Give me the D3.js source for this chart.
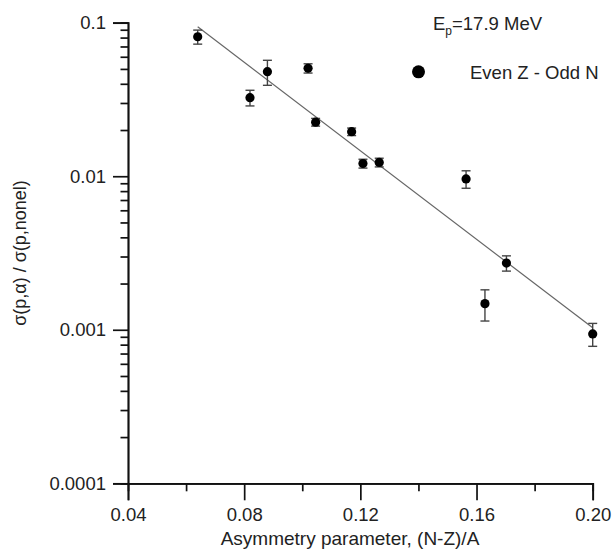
<!DOCTYPE html>
<html>
<head>
<meta charset="utf-8">
<script src="https://cdn.jsdelivr.net/npm/d3@7"></script>
<style>
  body { margin: 0; background: #fff; }
  text { font-family: "Liberation Sans", Arial, sans-serif; fill: #222; }
</style>
</head>
<body>
<div id="chart"></div>
<script>
// data
const asym = [0.064, 0.082, 0.088, 0.102, 0.1046, 0.117, 0.1209, 0.1265, 0.1564, 0.1629, 0.1703, 0.200];
const ratio = [0.081, 0.0325, 0.048, 0.0505, 0.0225, 0.0195, 0.0121, 0.0123, 0.0096, 0.00148, 0.00272, 0.00094];
const ratioErr = [0.0085, 0.0038, 0.0089, 0.0035, 0.0013, 0.0011, 0.0008, 0.0008, 0.00125, 0.00034, 0.00031, 0.00016];
const fitX = [0.064, 0.200];
const fitY = [0.094, 0.00103];
const xMajor = [0.04, 0.08, 0.12, 0.16, 0.20];
const xMinor = [0.06, 0.10, 0.14, 0.18];
const yMajor = [0.0001, 0.001, 0.01, 0.1];
const yMajorLabels = ["0.0001", "0.001", "0.01", "0.1"];

const W = 613, H = 550;
const MARGIN = {LEFT: 128, RIGHT: 20, TOP: 22.7, BOTTOM: 66.7};

const svg = d3.select("#chart").append("svg")
    .attr("width", W)
    .attr("height", H);

const x = d3.scaleLinear().domain([0.04, 0.20]).range([MARGIN.LEFT, 592.7]);
const y = d3.scaleLog().domain([0.0001, 0.1]).range([H - MARGIN.BOTTOM, MARGIN.TOP]);

// minor ticks on the log axis: 2..9 of each decade
const yMinor = [];
for (let d = 0; d < 3; d++) {
  for (let k = 2; k <= 9; k++) yMinor.push(+(k * yMajor[d]).toPrecision(2));
}

function styleAxis(g) {
  g.select(".domain").attr("stroke", "#111").attr("stroke-width", 1.7);
  g.selectAll(".tick line").attr("stroke", "#111").attr("stroke-width", 1.7);
  g.selectAll(".tick text").attr("font-size", 18.5).attr("fill", "#222")
    .attr("font-family", "Liberation Sans, Arial, sans-serif");
}

// x axis
svg.append("g")
    .attr("transform", `translate(0,${y(0.0001)})`)
    .call(d3.axisBottom(x).tickValues(xMinor).tickSize(8).tickFormat(""))
    .call(styleAxis);
svg.append("g")
    .attr("transform", `translate(0,${y(0.0001)})`)
    .call(d3.axisBottom(x).tickValues(xMajor).tickSize(17).tickPadding(8).tickFormat(d3.format(".2f")))
    .call(styleAxis);

// y axis
svg.append("g")
    .attr("transform", `translate(${x(0.04)},0)`)
    .call(d3.axisLeft(y).tickValues(yMinor).tickSize(7.5).tickFormat(""))
    .call(styleAxis);
svg.append("g")
    .attr("transform", `translate(${x(0.04)},0)`)
    .call(d3.axisLeft(y).tickValues(yMajor).tickSize(15).tickPadding(7)
      .tickFormat((d, i) => yMajorLabels[i]))
    .call(styleAxis);

// axis titles
svg.append("text")
    .attr("x", 350).attr("y", 545)
    .attr("text-anchor", "middle")
    .attr("font-size", 19)
    .text("Asymmetry parameter, (N-Z)/A");

svg.append("text")
    .attr("transform", "translate(26,253) rotate(-90)")
    .attr("text-anchor", "middle")
    .attr("font-size", 18)
    .text("σ(p,α) / σ(p,nonel)");

// fit line
svg.append("line")
    .attr("x1", x(fitX[0])).attr("y1", y(fitY[0]))
    .attr("x2", x(fitX[1])).attr("y2", y(fitY[1]))
    .attr("stroke", "#666")
    .attr("stroke-width", 1.2);

// error bars
const pts = asym.map((a, i) => ({x: a, y: ratio[i], e: ratioErr[i]}));
const eb = svg.append("g").attr("stroke", "#444").attr("stroke-width", 1.4);
pts.forEach(p => {
  const cx = x(p.x), yt = y(p.y + p.e), yb = y(p.y - p.e);
  eb.append("line").attr("x1", cx).attr("x2", cx).attr("y1", yt).attr("y2", yb);
  eb.append("line").attr("x1", cx - 4.5).attr("x2", cx + 4.5).attr("y1", yt).attr("y2", yt);
  eb.append("line").attr("x1", cx - 4.5).attr("x2", cx + 4.5).attr("y1", yb).attr("y2", yb);
});

// points
svg.append("g").selectAll("circle")
    .data(pts)
    .enter()
    .append("circle")
    .attr("cx", d => x(d.x))
    .attr("cy", d => y(d.y))
    .attr("r", 4.6)
    .attr("fill", "#000");

// annotation and legend
const ep = svg.append("text")
    .attr("x", 433).attr("y", 30)
    .attr("font-size", 18.5);
ep.append("tspan").text("E");
ep.append("tspan").attr("font-size", 12).attr("dy", 5).text("p");
ep.append("tspan").attr("dy", -5).text("=17.9 MeV");

svg.append("circle")
    .attr("cx", 418.5).attr("cy", 71.8)
    .attr("r", 6.5)
    .attr("fill", "#000");
svg.append("text")
    .attr("x", 470).attr("y", 78.5)
    .attr("font-size", 18.5)
    .text("Even Z - Odd N");
</script>
</body>
</html>
